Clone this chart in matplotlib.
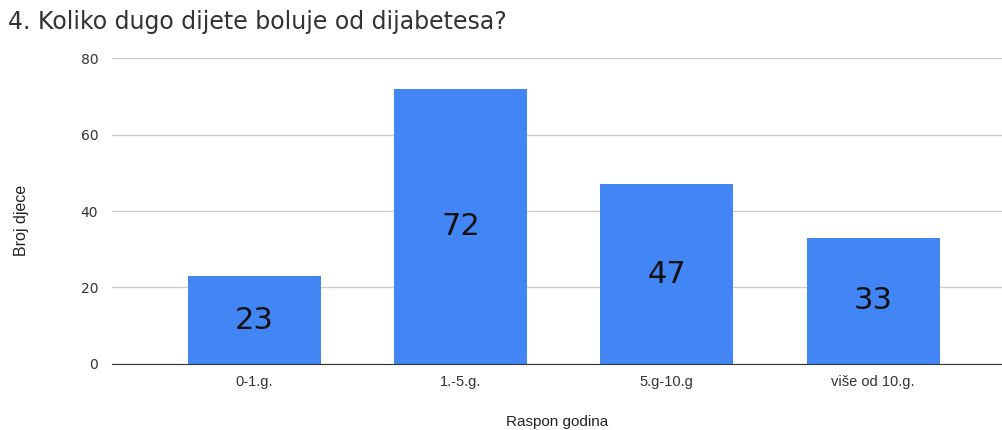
import matplotlib.pyplot as plt
import numpy as np

plt.rcParams['font.family'] = ['Liberation Sans', 'DejaVu Sans']

categories = ['0-1.g.', '1.-5.g.', '5.g-10.g', 'više od 10.g.']
counts = [23, 72, 47, 33]
yticks = [0, 20, 40, 60, 80]

fig = plt.figure(figsize=(10.03, 4.30), dpi=100)
ax = fig.add_axes([0.1117, 0.1535, 0.8883, 0.7116])

x = np.arange(len(categories))
bars = ax.bar(x, counts, width=0.645, color='#4285F4', zorder=2)
ax.bar_label(bars, labels=[str(c) for c in counts], label_type='center',
             fontsize=22, color='#111111', family='DejaVu Sans')

ax.set_xlim(-0.69, 3.63)
ax.set_ylim(0, 80)
ax.set_yticks(yticks)
ax.set_xticks(x)
ax.set_xticklabels(categories)
ax.tick_params(axis='both', length=0, colors='#333333')
ax.tick_params(axis='x', pad=8, labelsize=10.5)
ax.tick_params(axis='y', pad=10, labelsize=10)
for lab in ax.get_yticklabels():
    lab.set_family('DejaVu Sans')
ax.grid(axis='y', color='#cccccc', linewidth=1, zorder=0)
for s in ['top', 'right', 'left']:
    ax.spines[s].set_visible(False)
ax.spines['bottom'].set_color('#333333')
ax.spines['bottom'].set_zorder(3)

ax.set_xlabel('Raspon godina', fontsize=11, color='#222222', labelpad=19)
fig.text(0.021, 0.488, 'Broj djece', rotation=90, fontsize=11.5, color='#222222',
         family=['Liberation Sans Narrow', 'Liberation Sans', 'DejaVu Sans'],
         ha='center', va='center')
fig.text(0.008, 0.948, '4. Koliko dugo dijete boluje od dijabetesa?', fontsize=17,
         color='#333333', ha='left', va='center', family='DejaVu Sans')

fig.savefig('out.png', dpi=100)
